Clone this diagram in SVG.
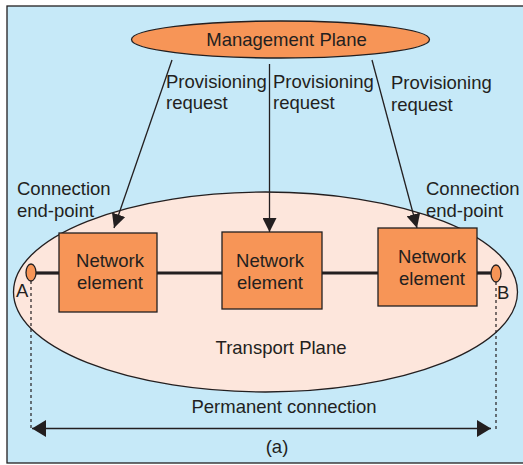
<svg xmlns="http://www.w3.org/2000/svg" width="523" height="465" viewBox="0 0 523 465">
  <style>
    text { font-family: "Liberation Sans", Arial, sans-serif; font-size: 18.5px; fill: #231f20; }
    .mid { text-anchor: middle; }
    .orange { fill: #f79557; stroke: #231f20; stroke-width: 1.3; }
    .conn { stroke: #231f20; stroke-width: 1.3; fill: none; }
    .dash { stroke: #231f20; stroke-width: 1.2; stroke-dasharray: 3 3; fill: none; }
    .link { stroke: #231f20; stroke-width: 3.2; }
  </style>
  <defs>
    <marker id="head" viewBox="0 0 14 14" refX="14" refY="7" markerWidth="14" markerHeight="14" markerUnits="userSpaceOnUse" orient="auto">
      <path d="M0,0 L14,7 L0,14 Z" fill="#231f20"/>
    </marker>
    <marker id="dimhead" viewBox="0 0 14 17" refX="14" refY="8.5" markerWidth="14" markerHeight="17" markerUnits="userSpaceOnUse" orient="auto-start-reverse">
      <path d="M0,0 L14,8.5 L0,17 Z" fill="#231f20"/>
    </marker>
  </defs>

  <!-- panel background -->
  <rect x="7" y="6" width="520" height="457" fill="#c6e9f8" stroke="#231f20" stroke-width="1.3"/>

  <!-- transport plane -->
  <g id="transport-plane">
    <ellipse cx="265.5" cy="292" rx="252" ry="100" fill="#fde6dc" stroke="#231f20" stroke-width="1.3"/>
    <text x="281" y="354" class="mid">Transport Plane</text>
  </g>

  <!-- management plane -->
  <g id="management-plane">
    <ellipse cx="280.5" cy="39.5" rx="149" ry="18.5" class="orange"/>
    <text x="286.5" y="45.5" class="mid">Management Plane</text>
  </g>

  <!-- connectors -->
  <g id="connectors">
    <line x1="172" y1="60" x2="114" y2="228" class="conn" marker-end="url(#head)"/>
    <line x1="269.5" y1="64" x2="269.5" y2="232" class="conn" marker-end="url(#head)"/>
    <line x1="372" y1="60" x2="417" y2="228" class="conn" marker-end="url(#head)"/>
    <line x1="36" y1="273" x2="59" y2="273" class="link"/>
    <line x1="157" y1="273" x2="222" y2="273" class="link"/>
    <line x1="322" y1="273" x2="378" y2="273" class="link"/>
    <line x1="477" y1="273" x2="491" y2="273" class="link"/>
    <line x1="31" y1="281" x2="31" y2="428" class="dash"/>
    <line x1="496" y1="282" x2="496" y2="432" class="dash"/>
    <line x1="32" y1="428.5" x2="491" y2="428.5" class="conn" marker-start="url(#dimhead)" marker-end="url(#dimhead)"/>
  </g>

  <!-- network elements -->
  <g id="ne-1">
    <rect x="59" y="233" width="98" height="79" class="orange"/>
    <text x="110" y="267" class="mid">Network</text>
    <text x="110" y="289" class="mid">element</text>
  </g>
  <g id="ne-2">
    <rect x="222" y="232" width="100" height="77" class="orange"/>
    <text x="270" y="267" class="mid">Network</text>
    <text x="270" y="289" class="mid">element</text>
  </g>
  <g id="ne-3">
    <rect x="378" y="228" width="99" height="78" class="orange"/>
    <text x="432" y="263" class="mid">Network</text>
    <text x="432" y="285" class="mid">element</text>
  </g>

  <!-- connection end-points -->
  <g id="endpoint-a">
    <ellipse cx="31" cy="272.5" rx="5" ry="8.5" class="orange"/>
    <text x="16" y="297">A</text>
  </g>
  <g id="endpoint-b">
    <ellipse cx="496" cy="273.5" rx="5" ry="8.5" class="orange"/>
    <text x="497" y="299">B</text>
  </g>

  <!-- labels -->
  <g id="labels">
    <text x="166" y="88">Provisioning</text>
    <text x="166" y="109">request</text>
    <text x="273" y="88">Provisioning</text>
    <text x="273" y="109">request</text>
    <text x="391" y="89">Provisioning</text>
    <text x="391" y="111">request</text>
    <text x="17" y="195">Connection</text>
    <text x="17" y="217">end-point</text>
    <text x="426" y="195">Connection</text>
    <text x="426" y="217">end-point</text>
    <text x="284" y="413" class="mid">Permanent connection</text>
    <text x="277" y="453" class="mid">(a)</text>
  </g>
</svg>
